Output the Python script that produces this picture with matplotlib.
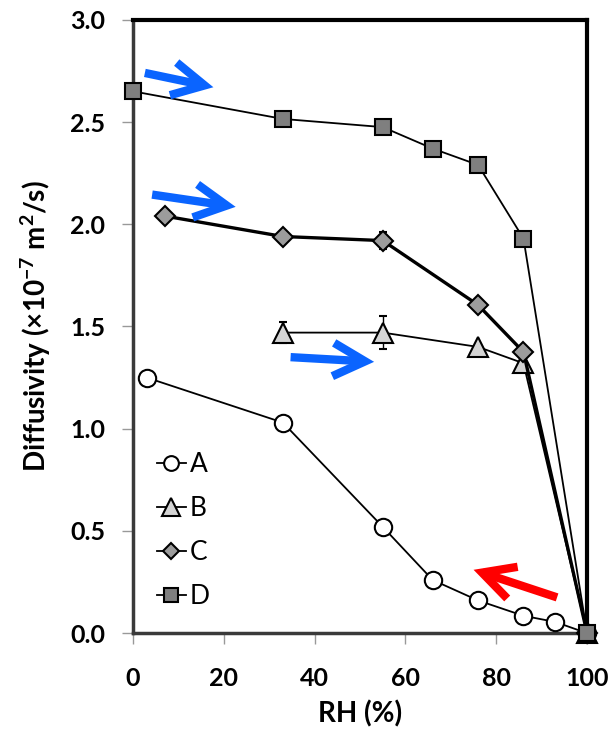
import matplotlib
matplotlib.use("Agg")
import matplotlib.pyplot as plt

plt.rcParams['font.family'] = ['Lato', 'DejaVu Sans']
plt.rcParams['mathtext.fontset'] = 'custom'
plt.rcParams['mathtext.rm'] = 'Lato:bold'
plt.rcParams['mathtext.it'] = 'Lato:bold'
plt.rcParams['mathtext.bf'] = 'Lato:bold'

# Data
a_x = [3, 33, 55, 66, 76, 86, 93, 100]
a_y = [1.25, 1.03, 0.52, 0.26, 0.16, 0.085, 0.055, 0.0]

b_x = [33, 55, 76, 86, 100]
b_y = [1.47, 1.47, 1.40, 1.32, 0.0]
b_err = [0.05, 0.08, 0.0, 0.0, 0.0]

c_x = [7, 33, 55, 76, 86, 100]
c_y = [2.04, 1.94, 1.92, 1.605, 1.375, 0.0]
c_err = [0.0, 0.0, 0.04, 0.0, 0.0, 0.0]

d_x = [0, 33, 55, 66, 76, 86, 100]
d_y = [2.65, 2.515, 2.475, 2.37, 2.29, 1.93, 0.0]

x_ticks = [0, 20, 40, 60, 80, 100]
y_ticks = [0.0, 0.5, 1.0, 1.5, 2.0, 2.5, 3.0]

# annotation arrows (tail -> tip) in data coords
blue_arrows = [((2.6, 2.74), (17.7, 2.67)),
               ((4.2, 2.145), (22.6, 2.085)),
               ((34.7, 1.35), (53.1, 1.327))]
red_arrows = [((93.4, 0.175), (75.0, 0.31))]

fig = plt.figure(figsize=(6.16, 7.32), dpi=100)
ax = fig.add_axes([0.216, 0.135, 0.737, 0.838])

la = ax.errorbar(a_x, a_y, color='black', lw=1.3, marker='o', ms=12.5,
                 mfc='white', mec='black', mew=1.5, clip_on=False, zorder=3)
lb = ax.errorbar(b_x, b_y, yerr=b_err, color='black', lw=1.3, marker='^', ms=14.5,
                 mfc='#d4d4d4', mec='black', mew=1.5, capsize=3, elinewidth=1,
                 clip_on=False, zorder=4)
lc = ax.errorbar(c_x, c_y, yerr=c_err, color='black', lw=2.4, marker='D', ms=10,
                 mfc='#9c9c9c', mec='black', mew=1.5, capsize=3, elinewidth=1,
                 clip_on=False, zorder=5)
ld = ax.errorbar(d_x, d_y, color='black', lw=1.3, marker='s', ms=11.5,
                 mfc='#7f7f7f', mec='black', mew=1.5, clip_on=False, zorder=6)

astyle = '->,head_length=1.15,head_width=0.6'
for (tail, tip) in blue_arrows:
    ax.annotate('', xy=tip, xytext=tail,
                arrowprops=dict(arrowstyle=astyle, mutation_scale=20,
                                color='#0a64ff', lw=6, shrinkA=0, shrinkB=0,
                                joinstyle='miter', capstyle='butt'), zorder=7)
for (tail, tip) in red_arrows:
    ax.annotate('', xy=tip, xytext=tail,
                arrowprops=dict(arrowstyle=astyle, mutation_scale=20,
                                color='#ff0000', lw=6, shrinkA=0, shrinkB=0,
                                joinstyle='miter', capstyle='butt'), zorder=7)

ax.set_xlim(0, 100)
ax.set_ylim(0, 3.0)
ax.set_xticks(x_ticks)
ax.set_yticks(y_ticks)
ax.set_xticklabels([str(t) for t in x_ticks], fontsize=18, fontweight='bold')
ax.set_yticklabels([f"{t:.1f}" for t in y_ticks], fontsize=18, fontweight='bold')
ax.tick_params(axis='x', direction='out', length=8, width=1, color='#999999', pad=16)
ax.tick_params(axis='y', direction='out', length=8, width=1, color='#999999', pad=12)

for side in ['top', 'right']:
    ax.spines[side].set_linewidth(3)
    ax.spines[side].set_color('black')
for side in ['left', 'bottom']:
    ax.spines[side].set_linewidth(2.5)
    ax.spines[side].set_color('#3a3a3a')

ax.set_xlabel('RH (%)', fontsize=20, fontweight='bold', labelpad=8)
ax.set_ylabel(r'Diffusivity ($\times$10$^{-7}$ m$^{2}$/s)', fontsize=20,
              fontweight='bold', labelpad=12)

handles = [la[0], lb[0], lc[0], ld[0]]
labels = ['A', 'B', 'C', 'D']
leg = ax.legend(handles, labels, loc='lower left', bbox_to_anchor=(0.0, 0.0),
                frameon=False, fontsize=19, handlelength=1.1, handletextpad=0.15,
                labelspacing=0.72, markerscale=0.85)
for h in leg.legend_handles:
    h.set_linewidth(1.3)

fig.savefig('out.png', dpi=100)
